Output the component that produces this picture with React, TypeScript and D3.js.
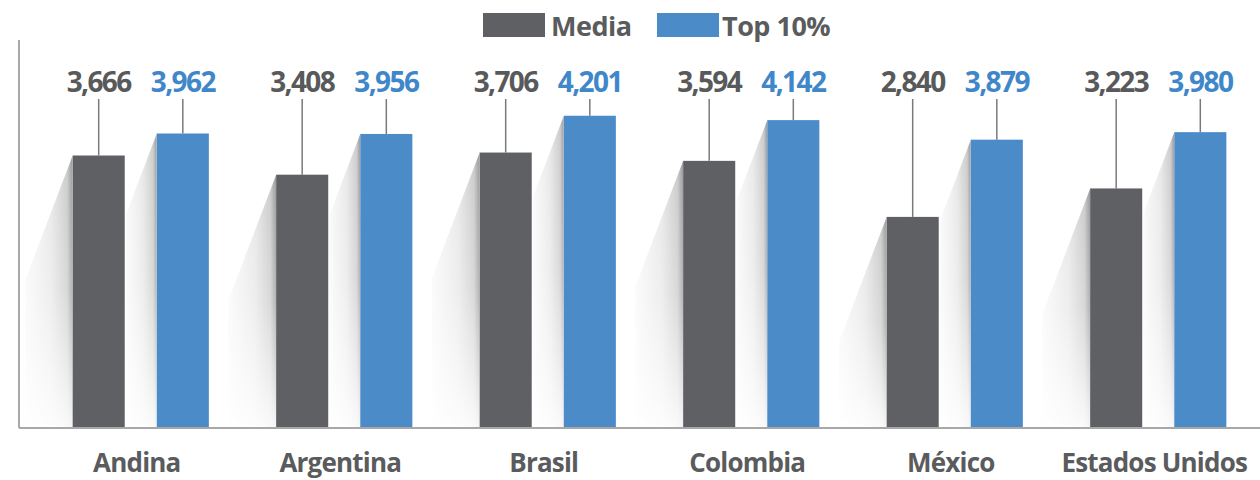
import React from "react";
import * as d3 from "d3";

const categories = ["Andina", "Argentina", "Brasil", "Colombia", "México", "Estados Unidos"];
const mediaValues = [3666, 3408, 3706, 3594, 2840, 3223];
const top10Values = [3962, 3956, 4201, 4142, 3879, 3980];
const seriesNames = ["Media", "Top 10%"];

const W = 1260;
const H = 480;
const BASE = 428;
const TOP = 40;
const AXIS_X = 19;

const colors = { media: "#5e6064", top: "#4a8bc8" };
const labelColors = { media: "#58595b", top: "#3f87c9" };
const FONT = "'Open Sans', 'DejaVu Sans', sans-serif";

export default function App() {
  const x0 = d3.scaleBand<string>().domain(categories).range([39, 1260]).paddingInner(0).paddingOuter(0);
  const x1 = d3.scaleBand<string>().domain(["media", "top"]).range([0, x0.bandwidth()]).paddingInner(0.381).paddingOuter(0.4);
  const y = d3.scaleLinear().domain([0, 5220]).range([BASE, TOP]);
  const fmt = d3.format(",");

  const bars: { key: string; cat: string; v: number; x: number; w: number; shadowW: number }[] = [];
  categories.forEach((c, i) => {
    const xm = (x0(c) ?? 0) + (x1("media") ?? 0);
    const xt = (x0(c) ?? 0) + (x1("top") ?? 0);
    bars.push({ key: "media", cat: c, v: mediaValues[i], x: xm, w: x1.bandwidth(), shadowW: 48 });
    bars.push({ key: "top", cat: c, v: top10Values[i], x: xt, w: x1.bandwidth(), shadowW: 31 });
  });

  return (
    <svg width={W} height={H} style={{ position: "absolute", left: 0, top: 0, background: "#fff" }}>
      <defs>
        <linearGradient id="shadowH" x1="1" y1="0" x2="0" y2="0">
          <stop offset="0" stopColor="#000" stopOpacity={0.4} />
          <stop offset="0.12" stopColor="#000" stopOpacity={0.2} />
          <stop offset="0.45" stopColor="#000" stopOpacity={0.09} />
          <stop offset="1" stopColor="#000" stopOpacity={0.02} />
        </linearGradient>
        <linearGradient id="fadeV" x1="0" y1="0" x2="0" y2="1">
          <stop offset="0" stopColor="#fff" stopOpacity={1} />
          <stop offset="0.5" stopColor="#fff" stopOpacity={0.75} />
          <stop offset="1" stopColor="#fff" stopOpacity={0.1} />
        </linearGradient>
        <mask id="fadeMask" maskContentUnits="objectBoundingBox">
          <rect x="0" y="0" width="1" height="1" fill="url(#fadeV)" />
        </mask>
      </defs>

      {/* shadows */}
      {bars.map((b, i) => {
        const top = y(b.v);
        const sw = b.shadowW;
        const drop = sw / 0.38;
        const pts = [
          [b.x, top],
          [b.x - sw, top + drop],
          [b.x - sw, BASE - 6],
          [b.x, BASE],
        ];
        return (
          <g key={"s" + i} mask="url(#fadeMask)">
            <polygon points={pts.map((p) => p.join(",")).join(" ")} fill="url(#shadowH)" />
          </g>
        );
      })}

      {/* axes */}
      <line x1={AXIS_X} x2={AXIS_X} y1={TOP} y2={BASE} stroke="#a8a8a8" strokeWidth={2} />
      <line x1={AXIS_X} x2={W} y1={BASE} y2={BASE} stroke="#a8a8a8" strokeWidth={2} />

      {/* bars */}
      {bars.map((b, i) => (
        <rect key={"b" + i} x={b.x} y={y(b.v)} width={b.w} height={BASE - y(b.v) - 1} fill={b.key === "media" ? colors.media : colors.top} />
      ))}

      {/* leader lines and value labels */}
      {bars.map((b, i) => {
        const cx = b.x + b.w / 2;
        return (
          <g key={"l" + i}>
            <line x1={cx} x2={cx} y1={99} y2={y(b.v)} stroke="#7a7a7a" strokeWidth={1.5} />
            <text
              x={cx}
              y={92}
              textAnchor="middle"
              fontFamily={FONT}
              fontWeight={700}
              fontSize={28}
              letterSpacing={-1.6}
              fill={b.key === "media" ? labelColors.media : labelColors.top}
            >
              {fmt(b.v)}
            </text>
          </g>
        );
      })}

      {/* category labels */}
      {categories.map((c) => (
        <text
          key={c}
          x={(x0(c) ?? 0) + x0.bandwidth() / 2 - 4}
          y={472}
          textAnchor="middle"
          fontFamily={FONT}
          fontWeight={700}
          fontSize={26}
          letterSpacing={-0.8}
          fill="#5a5b5d"
        >
          {c}
        </text>
      ))}

      {/* legend */}
      <g fontFamily={FONT} fontWeight={700} fontSize={27} fill="#5a5b5d">
        <rect x={483} y={13} width={62} height={24} fill={colors.media} />
        <text x={551} y={36} letterSpacing={-0.5}>{seriesNames[0]}</text>
        <rect x={657} y={13} width={62} height={24} fill={colors.top} />
        <text x={722} y={36} letterSpacing={-0.5}>{seriesNames[1]}</text>
      </g>
    </svg>
  );
}
